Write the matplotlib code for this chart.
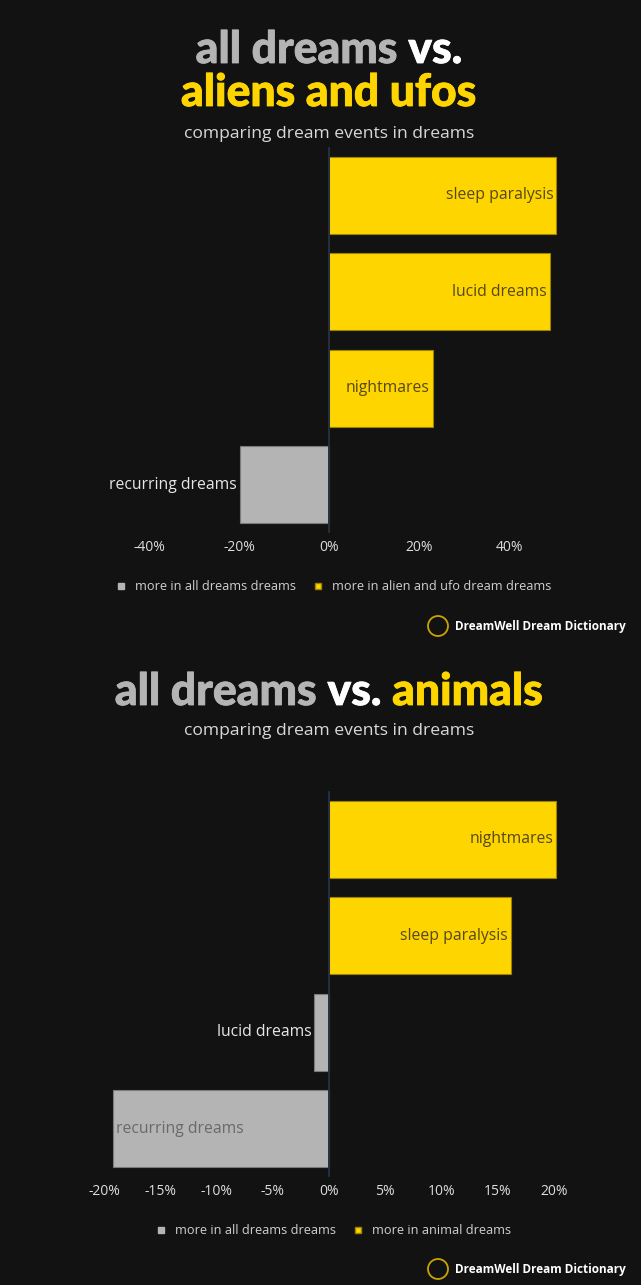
import matplotlib.pyplot as plt
import matplotlib.patheffects as pe
from matplotlib.lines import Line2D
from matplotlib.patches import Circle

BG = '#121212'
YELLOW = '#FFD500'
GRAY = '#B4B4B4'
WHITE = '#FFFFFF'
HEAD = 'Lato'
BODY = 'Open Sans'

# aliens and ufos vs all dreams (percentage point difference)
aliens_events = ['sleep paralysis', 'lucid dreams', 'nightmares', 'recurring dreams']
aliens_diff = [50.5, 49.0, 23.0, -19.8]
aliens_ticks = [-40, -20, 0, 20, 40]

# animals vs all dreams
animals_events = ['nightmares', 'sleep paralysis', 'lucid dreams', 'recurring dreams']
animals_diff = [20.2, 16.2, -1.3, -19.2]
animals_ticks = [-20, -15, -10, -5, 0, 5, 10, 15, 20]

fig = plt.figure(figsize=(6.41, 12.85), dpi=100, facecolor=BG)
W, H = 641, 1285
CX = 329  # headings are centred on the zero line


def centered_line(y_px, parts, size, family=HEAD, weight='black', stroke=0):
    r = fig.canvas.get_renderer()
    texts = []
    for s, c in parts:
        t = fig.text(0, 1 - y_px / H, s, color=c, fontsize=size, fontweight=weight,
                     family=family, va='baseline')
        if stroke:
            t.set_path_effects([pe.withStroke(linewidth=stroke, foreground=c)])
        texts.append(t)
    widths = [t.get_window_extent(r).width for t in texts]
    x = CX - sum(widths) / 2
    for t, w in zip(texts, widths):
        t.set_x(x / W)
        x += w


def draw_bars(ax, events, values, ticks, lim):
    r = fig.canvas.get_renderer()
    ax.set_facecolor(BG)
    ypos = list(range(len(events)))
    colors = [YELLOW if v > 0 else GRAY for v in values]
    edges = ['#9c8300' if v > 0 else '#7a7a7a' for v in values]
    ax.barh(ypos, values, height=0.8, color=colors, edgecolor=edges, linewidth=0.8, zorder=2)
    ax.axvline(0, color='#243040', lw=1.4, zorder=3)
    ax.set_xlim(-lim, lim)
    ax.set_ylim(len(events) - 0.5, -0.5)
    ax.set_yticks([])
    ax.set_xticks(ticks)
    ax.set_xticklabels([f'{t}%' for t in ticks], color='#DDDDDD', fontsize=10, family=BODY)
    ax.tick_params(axis='x', length=0, pad=5)
    for s in ax.spines.values():
        s.set_visible(False)

    ppu = ax.get_window_extent(r).width / (2 * lim)
    gap = 3 / ppu
    for y, v, name in zip(ypos, values, events):
        sign = 1 if v > 0 else -1
        t = ax.text(v - sign * gap, y, name, ha='right' if v > 0 else 'left', va='center',
                    fontsize=11.3, family=BODY, zorder=4,
                    color='#55491c' if v > 0 else '#6a6a6a')
        tw = t.get_window_extent(r).width / ppu
        if tw + gap > abs(v):
            # too narrow: put the label beside the bar
            t.set_x(v + sign * gap)
            t.set_ha('left' if v > 0 else 'right')
            t.set_color('#E6E6E6')


def legend_row(y_px, labels):
    handles = [Line2D([], [], ls='', marker='s', ms=5, color=GRAY),
               Line2D([], [], ls='', marker='s', ms=5, color=YELLOW, markeredgecolor='#9c8300')]
    leg = fig.legend(handles, labels, loc='center', bbox_to_anchor=(333 / W, 1 - y_px / H),
                     ncol=2, frameon=False, handlelength=1, handletextpad=0.6,
                     columnspacing=1.2, prop={'family': BODY, 'size': 9.2})
    for t in leg.get_texts():
        t.set_color('#D0D0D0')


def logo(y_px):
    fig.patches.append(Circle((438 / 100, (H - y_px) / 100), 0.1, transform=fig.dpi_scale_trans,
                              fill=False, ec='#C9A400', lw=1.3))
    fig.text(455 / W, 1 - y_px / H, 'DreamWell Dream Dictionary', color=WHITE, fontsize=8.5,
             fontweight='bold', family=BODY, va='center', ha='left')


# first chart
centered_line(63, [('all dreams ', GRAY), ('vs.', WHITE)], 32, stroke=0.6)
centered_line(106, [('aliens and ufos', YELLOW)], 32, stroke=0.6)
centered_line(138, [('comparing dream events in dreams', '#D8D8D8')], 12.6, family=BODY,
              weight='normal')
ax1 = fig.add_axes([99.5 / W, 1 - 533 / H, 459 / W, 386 / H])
draw_bars(ax1, aliens_events, aliens_diff, aliens_ticks, 51)
legend_row(587, ['more in all dreams dreams', 'more in alien and ufo dream dreams'])
logo(626)

# second chart
centered_line(705, [('all dreams ', GRAY), ('vs. ', WHITE), ('animals', YELLOW)], 32, stroke=0.6)
centered_line(735, [('comparing dream events in dreams', '#D8D8D8')], 12.6, family=BODY,
              weight='normal')
ax2 = fig.add_axes([99.5 / W, 1 - 1177 / H, 459 / W, 386 / H])
draw_bars(ax2, animals_events, animals_diff, animals_ticks, 20.4)
legend_row(1231, ['more in all dreams dreams', 'more in animal dreams'])
logo(1269)

fig.savefig('out.png', dpi=100, facecolor=BG)
